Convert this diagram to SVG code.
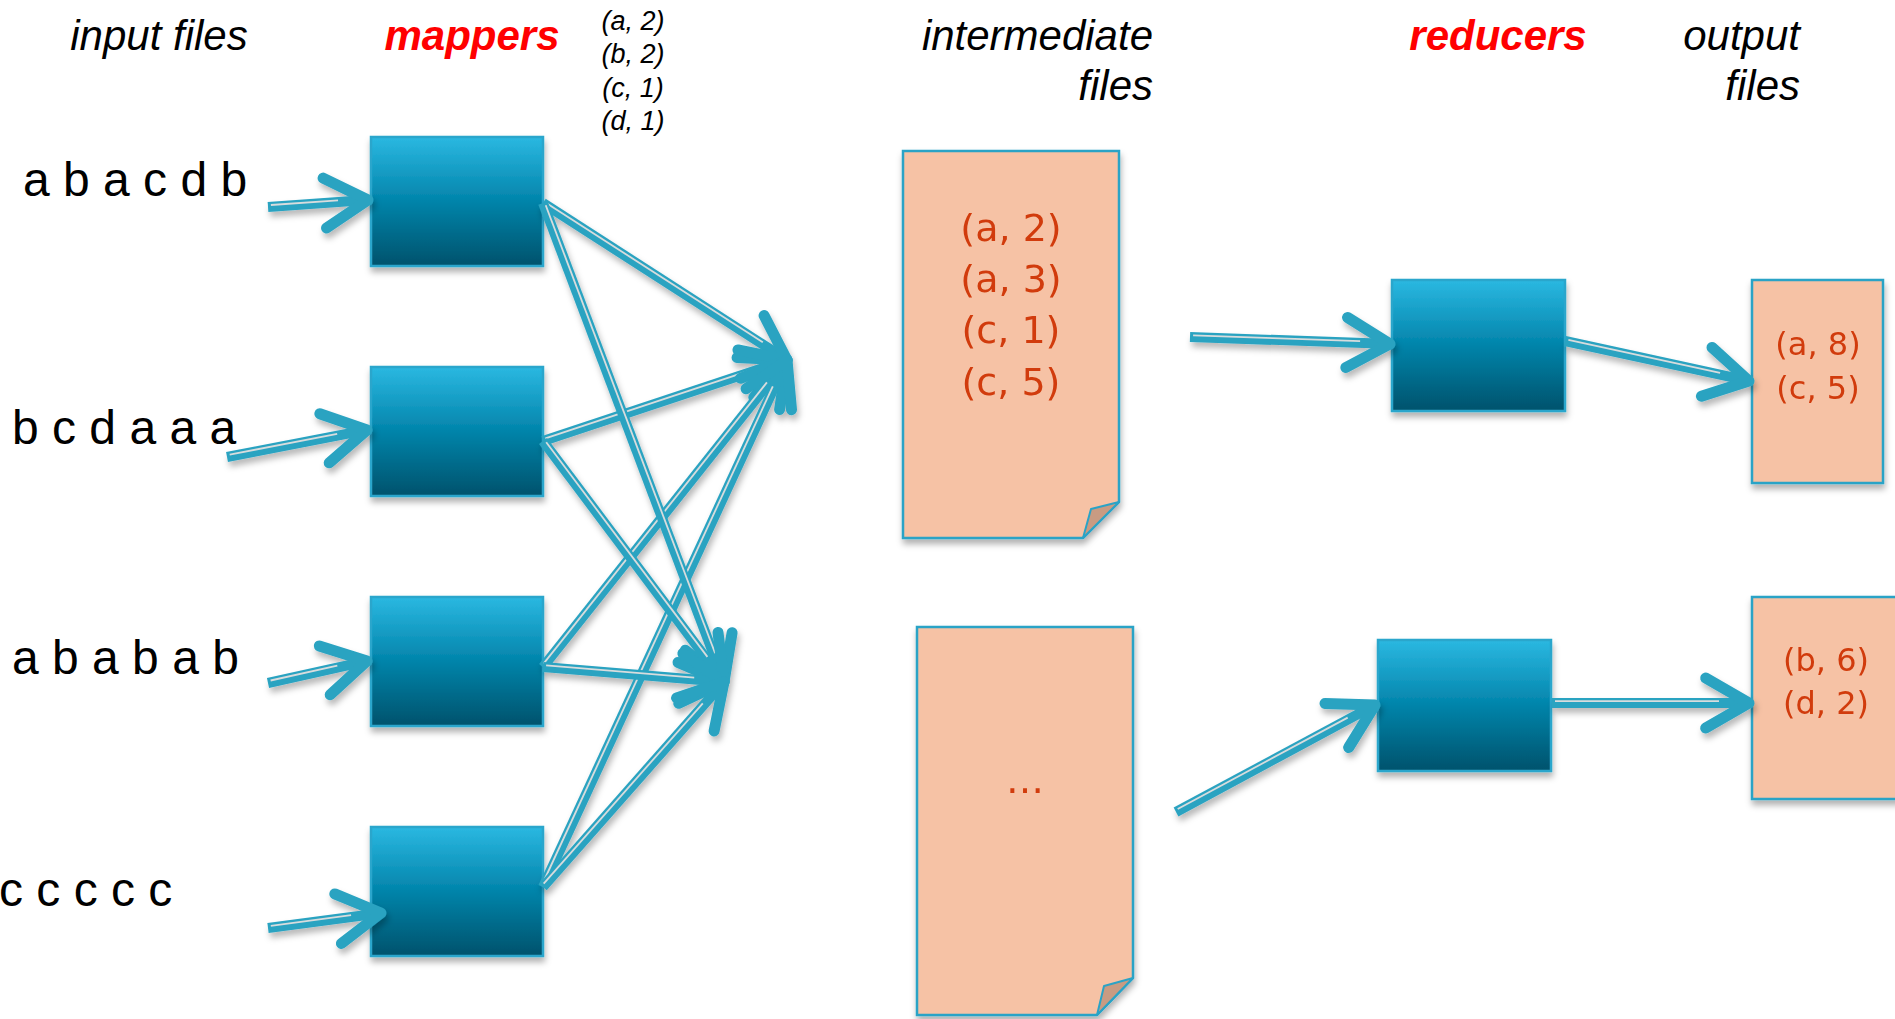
<svg xmlns="http://www.w3.org/2000/svg" width="1895" height="1019" viewBox="0 0 1895 1019">
<defs>
  <linearGradient id="boxGrad" x1="0" y1="0" x2="0" y2="1">
    <stop offset="0" stop-color="#2bb8e1"/>
    <stop offset="0.45" stop-color="#0689b0"/>
    <stop offset="1" stop-color="#03526c"/>
  </linearGradient>
  <filter id="shadow" x="-20%" y="-20%" width="140%" height="140%">
    <feDropShadow dx="1" dy="5" stdDeviation="3" flood-color="#000" flood-opacity="0.3"/>
  </filter>
  <filter id="ashadow" x="-10%" y="-10%" width="120%" height="120%">
    <feDropShadow dx="2" dy="5" stdDeviation="3" flood-color="#000" flood-opacity="0.28"/>
  </filter>
</defs>
<style>
  .hdr { font-family: "Liberation Sans", Arial, sans-serif; font-size: 42px; font-style: italic; fill: #000; }
  .red { font-weight: bold; fill: #ff0000; }
  .pair { font-family: "Liberation Sans", Arial, sans-serif; font-size: 27px; font-style: italic; fill: #000; }
  .inp { font-family: "Liberation Sans", Arial, sans-serif; font-size: 48px; fill: #000; }
  .box { fill: url(#boxGrad); stroke: #2aa6cc; stroke-width: 2.5; }
  .file { fill: #f6c2a5; stroke: #2aa3c6; stroke-width: 2.5; }
  .fold { fill: #c99b82; stroke: #2aa3c6; stroke-width: 2; stroke-linejoin: round; }
  .ftxt { font-family: "DejaVu Sans", sans-serif; font-size: 38px; fill: #d13b0b; text-anchor: middle; }
  .otxt { font-family: "DejaVu Sans", sans-serif; font-size: 32px; fill: #d13b0b; text-anchor: middle; }
  .shaft { stroke: #2ba3c1; stroke-width: 10; stroke-linecap: butt; fill: none; }
  .stripe { stroke: #d8dcdd; stroke-width: 1.8; fill: none; }
  .head { stroke: #2ba3c1; stroke-width: 11; stroke-linecap: round; stroke-linejoin: round; fill: none; }
</style>
<rect x="0" y="0" width="1895" height="1019" fill="#ffffff"/>

<g id="labels">
  <text class="hdr" x="159" y="50" text-anchor="middle">input files</text>
  <text class="hdr red" x="472" y="50" text-anchor="middle">mappers</text>
  <text class="pair" x="633" y="30" text-anchor="middle">(a, 2)</text>
  <text class="pair" x="633" y="63" text-anchor="middle">(b, 2)</text>
  <text class="pair" x="633" y="97" text-anchor="middle">(c, 1)</text>
  <text class="pair" x="633" y="130" text-anchor="middle">(d, 1)</text>
  <text class="hdr" x="1153" y="50" text-anchor="end">intermediate</text>
  <text class="hdr" x="1153" y="100" text-anchor="end">files</text>
  <text class="hdr red" x="1498" y="50" text-anchor="middle">reducers</text>
  <text class="hdr" x="1800" y="50" text-anchor="end">output</text>
  <text class="hdr" x="1800" y="100" text-anchor="end">files</text>
  <text class="inp" x="23" y="196">a b a c d b</text>
  <text class="inp" x="12" y="444">b c d a a a</text>
  <text class="inp" x="12" y="674">a b a b a b</text>
  <text class="inp" x="-1" y="906">c c c c c</text>
</g>

<g id="mapper1" filter="url(#shadow)"><rect class="box" x="371" y="137" width="172" height="129"/></g>
<g id="mapper2" filter="url(#shadow)"><rect class="box" x="371" y="367" width="172" height="129"/></g>
<g id="mapper3" filter="url(#shadow)"><rect class="box" x="371" y="597" width="172" height="129"/></g>
<g id="mapper4" filter="url(#shadow)"><rect class="box" x="371" y="827" width="172" height="129"/></g>

<g id="intermediate1" filter="url(#shadow)">
  <path class="file" d="M903,151 H1119 V502 L1083,538 H903 Z"/>
  <path class="fold" d="M1119,502 L1091,509 L1083,538 Z"/>
  <text class="ftxt" x="1011" y="241">(a, 2)</text>
  <text class="ftxt" x="1011" y="292">(a, 3)</text>
  <text class="ftxt" x="1011" y="343">(c, 1)</text>
  <text class="ftxt" x="1011" y="395">(c, 5)</text>
</g>
<g id="intermediate2" filter="url(#shadow)">
  <path class="file" d="M917,627 H1133 V978 L1097,1015 H917 Z"/>
  <path class="fold" d="M1133,978 L1104,986 L1097,1015 Z"/>
  <text class="ftxt" x="1025" y="793">…</text>
</g>

<g id="reducer1" filter="url(#shadow)"><rect class="box" x="1392" y="280" width="173" height="131"/></g>
<g id="reducer2" filter="url(#shadow)"><rect class="box" x="1378" y="640" width="173" height="131"/></g>

<g id="output1" filter="url(#shadow)">
  <rect class="file" x="1752" y="280" width="131" height="203"/>
  <text class="otxt" x="1818" y="355">(a, 8)</text>
  <text class="otxt" x="1818" y="399">(c, 5)</text>
</g>
<g id="output2" filter="url(#shadow)">
  <rect class="file" x="1752" y="597" width="150" height="202"/>
  <text class="otxt" x="1826" y="671">(b, 6)</text>
  <text class="otxt" x="1826" y="714">(d, 2)</text>
</g>

<g id="connectors" filter="url(#ashadow)">
  <g><line class="shaft" x1="268" y1="207" x2="363" y2="200.3"/><line class="stripe" x1="270.9" y1="205" x2="338" y2="200.3"/><polyline class="head" points="323.1,178.1 368,200 326.5,228"/></g>
  <g><line class="shaft" x1="227" y1="457" x2="362.1" y2="430.9"/><line class="stripe" x1="229.7" y1="454.6" x2="337.2" y2="433.9"/><polyline class="head" points="319.8,413.7 367,430 329.2,462.8"/></g>
  <g><line class="shaft" x1="268" y1="683" x2="362.1" y2="662.1"/><line class="stripe" x1="270.6" y1="680.5" x2="337.3" y2="665.7"/><polyline class="head" points="319.3,646 367,661 330.2,694.8"/></g>
  <g><line class="shaft" x1="268" y1="928" x2="376" y2="913.7"/><line class="stripe" x1="270.8" y1="925.8" x2="351.1" y2="915.2"/><polyline class="head" points="334.8,893.9 381,913 341.4,943.5"/></g>

  <g><line class="shaft" x1="543" y1="203" x2="782.8" y2="357.3"/><line class="stripe" x1="547" y1="203.5" x2="762.8" y2="342.3"/><polyline class="head" points="764.1,315.6 787,360 737.1,357.6"/></g>
  <g><line class="shaft" x1="543" y1="441" x2="782.3" y2="361.6"/><line class="stripe" x1="545.4" y1="438.3" x2="757.9" y2="367.8"/><polyline class="head" points="738,349.9 787,360 753.8,397.4"/></g>
  <g><line class="shaft" x1="543" y1="667" x2="783.9" y2="363.9"/><line class="stripe" x1="543.6" y1="663.6" x2="766.9" y2="382.4"/><polyline class="head" points="740.5,378.3 787,360 779.6,409.5"/></g>
  <g><line class="shaft" x1="543" y1="887" x2="784.9" y2="364.5"/><line class="stripe" x1="542.7" y1="883.5" x2="772.8" y2="386.4"/><polyline class="head" points="746.1,388.8 787,360 791.5,409.8"/></g>

  <g><line class="shaft" x1="543" y1="203" x2="722.2" y2="677.3"/><line class="stripe" x1="545.7" y1="205.2" x2="715.1" y2="653.3"/><polyline class="head" points="732.1,632.7 724,682 685.3,650.3"/></g>
  <g><line class="shaft" x1="543" y1="441" x2="721" y2="678"/><line class="stripe" x1="546.2" y1="442.3" x2="707.4" y2="656.9"/><polyline class="head" points="718,632.4 724,682 678,662.4"/></g>
  <g><line class="shaft" x1="543" y1="667" x2="719" y2="681.6"/><line class="stripe" x1="546.1" y1="665.4" x2="694.2" y2="677.7"/><polyline class="head" points="682.9,653.5 724,682 678.8,703.3"/></g>
  <g><line class="shaft" x1="543" y1="887" x2="720.7" y2="685.7"/><line class="stripe" x1="543.7" y1="883.6" x2="702.8" y2="703.3"/><polyline class="head" points="676.6,697.9 724,682 714.1,731"/></g>

  <g><line class="shaft" x1="1190" y1="337" x2="1385" y2="343.8"/><line class="stripe" x1="1193.1" y1="335.3" x2="1360.1" y2="341.2"/><polyline class="head" points="1347.6,317.5 1390,344 1345.8,367.5"/></g>
  <g><line class="shaft" x1="1176" y1="812" x2="1370.6" y2="707.4"/><line class="stripe" x1="1177.7" y1="809" x2="1347.7" y2="717.6"/><polyline class="head" points="1325,703.5 1375,705 1348.7,747.5"/></g>
  <g><line class="shaft" x1="1565" y1="341" x2="1744.1" y2="379.9"/><line class="stripe" x1="1568.4" y1="339.8" x2="1720.1" y2="372.8"/><polyline class="head" points="1712,347.4 1749,381 1701.4,396.2"/></g>
  <g><line class="shaft" x1="1552" y1="703" x2="1744" y2="703"/><line class="stripe" x1="1555" y1="701.2" x2="1719" y2="701.2"/><polyline class="head" points="1705.7,678 1749,703 1705.7,728"/></g>
</g>
</svg>
